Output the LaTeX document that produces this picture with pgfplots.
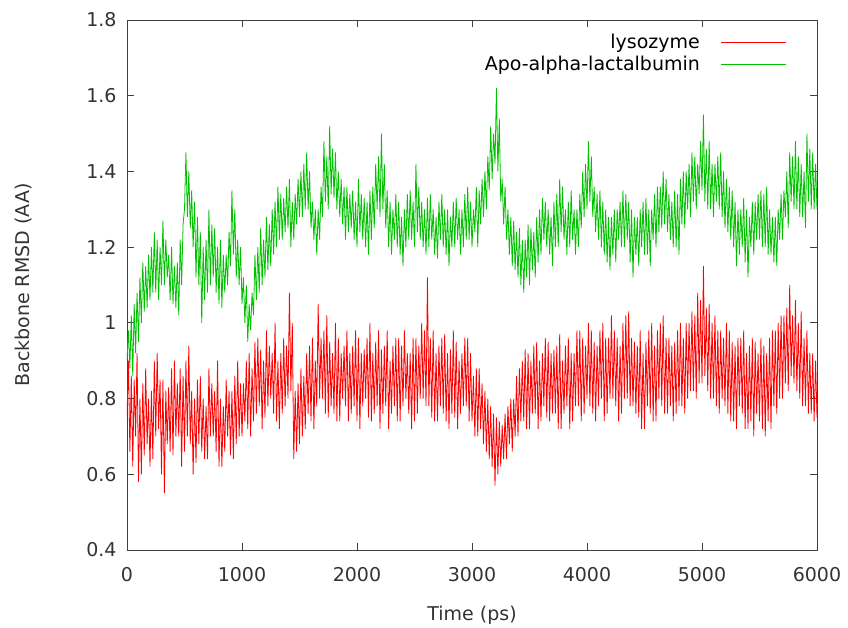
\documentclass[border=0pt]{standalone}
\usepackage{pgfplots}
\pgfplotsset{compat=1.18}
\usepackage{fontspec}
\setmainfont{DejaVu Sans}
\definecolor{gpred}{RGB}{255,0,0}
\definecolor{gpgreen}{RGB}{0,192,0}
\begin{document}
\fontsize{19bp}{23bp}\selectfont
\begin{tikzpicture}
\path[use as bounding box] (-127bp,-78bp) rectangle (721bp,550bp);
\begin{axis}[
  at={(0,0)}, anchor=south west,
  scale only axis, width=690bp, height=530bp,
  xmin=0, xmax=6000, ymin=0.4, ymax=1.8,
  xtick={0,1000,...,6000}, ytick={0.4,0.6,...,1.8},
  tick align=inside, tick pos=both,
  major tick length=7bp,
  scaled ticks=false,
  /pgf/number format/1000 sep={},
  /pgf/number format/assume math mode=true,
  ticklabel style={font=\fontsize{19bp}{23bp}\selectfont, black!80},
  label style={font=\fontsize{19bp}{23bp}\selectfont, black!80},
  xticklabel style={yshift=-11bp},
  yticklabel style={xshift=-4bp},
  xlabel={Time (ps)}, ylabel={Backbone RMSD (AA)},
  xlabel style={yshift=-11bp},
  ylabel style={yshift=41bp},
  axis line style={black!75, line width=0.9bp},
  every tick/.style={black!75, line width=0.9bp},
  legend style={draw=none, fill=none, inner sep=0pt,
    at={(0.9565,0.978)}, anchor=north east,
    font=\fontsize{19bp}{23bp}\selectfont, row sep=1bp},
  legend cell align=right,
  legend plot pos=right,
]
\addplot[gpred, line width=0.8bp,
  legend image code/.code={\path (0bp,0bp); \draw[gpred, line width=1bp] (19bp,0bp) -- (84bp,0bp);}] coordinates {
(0,0.75)(12.5,0.90)(25,0.66)(37.5,0.86)(50,0.62)(62.5,0.85)(75,0.70)(87.5,0.92)
(100,0.58)(112.5,0.80)(125,0.60)(137.5,0.84)(150,0.65)(162.5,0.88)(175,0.68)(187.5,0.80)
(200,0.62)(212.5,0.82)(225,0.64)(237.5,0.90)(250,0.70)(262.5,0.92)(275,0.72)(287.5,0.85)
(300,0.60)(312.5,0.85)(325,0.55)(337.5,0.82)(350,0.68)(362.5,0.83)(375,0.66)(387.5,0.88)
(400,0.65)(412.5,0.90)(425,0.70)(437.5,0.84)(450,0.70)(462.5,0.88)(475,0.62)(487.5,0.86)
(500,0.66)(512.5,0.90)(525,0.70)(537.5,0.94)(550,0.68)(562.5,0.82)(575,0.60)(587.5,0.80)
(600,0.63)(612.5,0.85)(625,0.68)(637.5,0.86)(650,0.66)(662.5,0.80)(675,0.64)(687.5,0.78)
(700,0.64)(712.5,0.88)(725,0.70)(737.5,0.84)(750,0.70)(762.5,0.82)(775,0.66)(787.5,0.90)
(800,0.62)(812.5,0.80)(825,0.62)(837.5,0.78)(850,0.66)(862.5,0.85)(875,0.70)(887.5,0.82)
(900,0.65)(912.5,0.82)(925,0.64)(937.5,0.86)(950,0.68)(962.5,0.90)(975,0.70)(987.5,0.84)
(1000,0.70)(1012.5,0.84)(1025,0.74)(1037.5,0.90)(1050,0.72)(1062.5,0.92)(1075,0.70)(1087.5,0.88)
(1100,0.74)(1112.5,0.95)(1125,0.76)(1137.5,0.96)(1150,0.78)(1162.5,0.93)(1175,0.72)(1187.5,0.90)
(1200,0.75)(1212.5,0.98)(1225,0.78)(1237.5,0.94)(1250,0.80)(1262.5,0.92)(1275,0.76)(1287.5,1.00)
(1300,0.74)(1312.5,0.90)(1325,0.72)(1337.5,0.92)(1350,0.76)(1362.5,0.96)(1375,0.78)(1387.5,0.94)
(1400,0.80)(1412.5,1.08)(1425,0.82)(1437.5,1.00)(1450,0.64)(1462.5,0.82)(1475,0.66)(1487.5,0.84)
(1500,0.68)(1512.5,0.88)(1525,0.70)(1537.5,0.86)(1550,0.72)(1562.5,0.92)(1575,0.76)(1587.5,0.94)
(1600,0.74)(1612.5,0.96)(1625,0.72)(1637.5,0.90)(1650,0.78)(1662.5,1.05)(1675,0.80)(1687.5,0.96)
(1700,0.80)(1712.5,0.98)(1725,0.76)(1737.5,1.02)(1750,0.75)(1762.5,0.95)(1775,0.78)(1787.5,0.92)
(1800,0.76)(1812.5,1.00)(1825,0.74)(1837.5,0.96)(1850,0.74)(1862.5,0.92)(1875,0.80)(1887.5,0.94)
(1900,0.78)(1912.5,0.98)(1925,0.74)(1937.5,0.92)(1950,0.76)(1962.5,0.94)(1975,0.78)(1987.5,0.98)
(2000,0.74)(2012.5,0.96)(2025,0.72)(2037.5,0.92)(2050,0.78)(2062.5,0.93)(2075,0.80)(2087.5,0.96)
(2100,0.75)(2112.5,1.00)(2125,0.74)(2137.5,0.92)(2150,0.76)(2162.5,0.95)(2175,0.78)(2187.5,0.98)
(2200,0.72)(2212.5,0.93)(2225,0.76)(2237.5,0.94)(2250,0.78)(2262.5,0.98)(2275,0.72)(2287.5,0.90)
(2300,0.76)(2312.5,0.94)(2325,0.78)(2337.5,0.96)(2350,0.74)(2362.5,0.96)(2375,0.74)(2387.5,0.94)
(2400,0.78)(2412.5,0.98)(2425,0.80)(2437.5,0.92)(2450,0.76)(2462.5,0.92)(2475,0.72)(2487.5,0.96)
(2500,0.74)(2512.5,0.96)(2525,0.76)(2537.5,0.94)(2550,0.80)(2562.5,1.00)(2575,0.80)(2587.5,0.98)
(2600,0.78)(2612.5,1.12)(2625,0.78)(2637.5,0.96)(2650,0.75)(2662.5,0.98)(2675,0.74)(2687.5,0.92)
(2700,0.74)(2712.5,0.94)(2725,0.78)(2737.5,0.96)(2750,0.76)(2762.5,0.97)(2775,0.74)(2787.5,0.92)
(2800,0.72)(2812.5,0.93)(2825,0.76)(2837.5,0.98)(2850,0.75)(2862.5,0.95)(2875,0.72)(2887.5,0.90)
(2900,0.76)(2912.5,0.92)(2925,0.78)(2937.5,0.96)(2950,0.78)(2962.5,0.96)(2975,0.74)(2987.5,0.92)
(3000,0.74)(3012.5,0.86)(3025,0.70)(3037.5,0.88)(3050,0.70)(3062.5,0.88)(3075,0.72)(3087.5,0.84)
(3100,0.68)(3112.5,0.82)(3125,0.66)(3137.5,0.80)(3150,0.64)(3162.5,0.78)(3175,0.62)(3187.5,0.76)
(3200,0.57)(3212.5,0.75)(3225,0.60)(3237.5,0.74)(3250,0.62)(3262.5,0.73)(3275,0.64)(3287.5,0.76)
(3300,0.64)(3312.5,0.78)(3325,0.68)(3337.5,0.80)(3350,0.66)(3362.5,0.80)(3375,0.70)(3387.5,0.86)
(3400,0.70)(3412.5,0.88)(3425,0.74)(3437.5,0.90)(3450,0.74)(3462.5,0.93)(3475,0.72)(3487.5,0.92)
(3500,0.72)(3512.5,0.90)(3525,0.76)(3537.5,0.94)(3550,0.76)(3562.5,0.95)(3575,0.72)(3587.5,0.90)
(3600,0.74)(3612.5,0.92)(3625,0.78)(3637.5,0.96)(3650,0.75)(3662.5,0.95)(3675,0.74)(3687.5,0.92)
(3700,0.76)(3712.5,0.93)(3725,0.76)(3737.5,0.94)(3750,0.72)(3762.5,0.97)(3775,0.72)(3787.5,0.90)
(3800,0.76)(3812.5,0.94)(3825,0.78)(3837.5,0.96)(3850,0.72)(3862.5,0.92)(3875,0.74)(3887.5,0.92)
(3900,0.78)(3912.5,0.98)(3925,0.78)(3937.5,0.98)(3950,0.74)(3962.5,0.96)(3975,0.76)(3987.5,0.94)
(4000,0.80)(4012.5,1.00)(4025,0.78)(4037.5,0.98)(4050,0.76)(4062.5,0.95)(4075,0.74)(4087.5,0.94)
(4100,0.78)(4112.5,0.98)(4125,0.80)(4137.5,1.00)(4150,0.74)(4162.5,0.96)(4175,0.76)(4187.5,0.96)
(4200,0.80)(4212.5,1.02)(4225,0.80)(4237.5,0.98)(4250,0.78)(4262.5,0.96)(4275,0.74)(4287.5,0.94)
(4300,0.76)(4312.5,1.00)(4325,0.80)(4337.5,1.02)(4350,0.80)(4362.5,1.03)(4375,0.78)(4387.5,0.96)
(4400,0.78)(4412.5,0.95)(4425,0.76)(4437.5,0.94)(4450,0.75)(4462.5,0.98)(4475,0.72)(4487.5,0.92)
(4500,0.72)(4512.5,0.95)(4525,0.78)(4537.5,0.98)(4550,0.76)(4562.5,1.00)(4575,0.74)(4587.5,0.94)
(4600,0.74)(4612.5,0.98)(4625,0.80)(4637.5,1.00)(4650,0.78)(4662.5,1.02)(4675,0.76)(4687.5,0.96)
(4700,0.76)(4712.5,0.96)(4725,0.78)(4737.5,0.94)(4750,0.74)(4762.5,0.95)(4775,0.76)(4787.5,0.98)
(4800,0.78)(4812.5,1.00)(4825,0.78)(4837.5,0.96)(4850,0.76)(4862.5,1.00)(4875,0.80)(4887.5,1.00)
(4900,0.82)(4912.5,1.03)(4925,0.82)(4937.5,1.02)(4950,0.80)(4962.5,1.08)(4975,0.84)(4987.5,1.06)
(5000,0.84)(5012.5,1.15)(5025,0.86)(5037.5,1.04)(5050,0.82)(5062.5,1.05)(5075,0.80)(5087.5,1.00)
(5100,0.80)(5112.5,1.02)(5125,0.78)(5137.5,0.98)(5150,0.76)(5162.5,0.98)(5175,0.80)(5187.5,0.96)
(5200,0.78)(5212.5,1.00)(5225,0.76)(5237.5,0.98)(5250,0.74)(5262.5,0.95)(5275,0.74)(5287.5,0.94)
(5300,0.72)(5312.5,0.96)(5325,0.78)(5337.5,0.96)(5350,0.76)(5362.5,0.98)(5375,0.72)(5387.5,0.92)
(5400,0.72)(5412.5,0.94)(5425,0.74)(5437.5,0.96)(5450,0.70)(5462.5,0.95)(5475,0.76)(5487.5,0.92)
(5500,0.74)(5512.5,0.96)(5525,0.72)(5537.5,0.94)(5550,0.70)(5562.5,0.92)(5575,0.74)(5587.5,0.96)
(5600,0.72)(5612.5,0.98)(5625,0.78)(5637.5,0.98)(5650,0.76)(5662.5,1.00)(5675,0.80)(5687.5,1.02)
(5700,0.80)(5712.5,1.02)(5725,0.84)(5737.5,1.04)(5750,0.82)(5762.5,1.10)(5775,0.86)(5787.5,1.02)
(5800,0.84)(5812.5,1.06)(5825,0.82)(5837.5,1.00)(5850,0.80)(5862.5,1.03)(5875,0.78)(5887.5,0.96)
(5900,0.78)(5912.5,0.98)(5925,0.76)(5937.5,0.92)(5950,0.76)(5962.5,0.92)(5975,0.74)(5987.5,0.90)
(6000,0.75)
};
\addlegendentry{lysozyme}
\addplot[gpgreen, line width=0.8bp,
  legend image code/.code={\path (0bp,0bp); \draw[gpgreen, line width=1bp] (19bp,0bp) -- (84bp,0bp);}] coordinates {
(0,0.90)(12.5,0.98)(25,0.88)(37.5,1.02)(50,0.86)(62.5,1.05)(75,0.92)(87.5,1.08)
(100,0.95)(112.5,1.12)(125,1.00)(137.5,1.16)(150,1.03)(162.5,1.15)(175,1.04)(187.5,1.18)
(200,1.06)(212.5,1.20)(225,1.08)(237.5,1.24)(250,1.08)(262.5,1.22)(275,1.06)(287.5,1.20)
(300,1.10)(312.5,1.27)(325,1.10)(337.5,1.22)(350,1.12)(362.5,1.18)(375,1.06)(387.5,1.20)
(400,1.05)(412.5,1.15)(425,1.04)(437.5,1.16)(450,1.02)(462.5,1.22)(475,1.10)(487.5,1.26)
(500,1.30)(512.5,1.45)(525,1.28)(537.5,1.40)(550,1.25)(562.5,1.35)(575,1.20)(587.5,1.32)
(600,1.12)(612.5,1.28)(625,1.10)(637.5,1.24)(650,1.00)(662.5,1.20)(675,1.06)(687.5,1.22)
(700,1.08)(712.5,1.30)(725,1.10)(737.5,1.26)(750,1.12)(762.5,1.25)(775,1.08)(787.5,1.20)
(800,1.05)(812.5,1.22)(825,1.04)(837.5,1.18)(850,1.08)(862.5,1.18)(875,1.10)(887.5,1.24)
(900,1.15)(912.5,1.35)(925,1.18)(937.5,1.30)(950,1.12)(962.5,1.22)(975,1.10)(987.5,1.20)
(1000,1.05)(1012.5,1.12)(1025,1.00)(1037.5,1.10)(1050,0.95)(1062.5,1.05)(1075,0.98)(1087.5,1.08)
(1100,1.02)(1112.5,1.18)(1125,1.06)(1137.5,1.20)(1150,1.08)(1162.5,1.25)(1175,1.10)(1187.5,1.22)
(1200,1.12)(1212.5,1.28)(1225,1.14)(1237.5,1.26)(1250,1.15)(1262.5,1.30)(1275,1.18)(1287.5,1.32)
(1300,1.20)(1312.5,1.36)(1325,1.22)(1337.5,1.34)(1350,1.22)(1362.5,1.33)(1375,1.24)(1387.5,1.36)
(1400,1.25)(1412.5,1.38)(1425,1.20)(1437.5,1.32)(1450,1.22)(1462.5,1.34)(1475,1.26)(1487.5,1.38)
(1500,1.28)(1512.5,1.40)(1525,1.28)(1537.5,1.42)(1550,1.30)(1562.5,1.45)(1575,1.30)(1587.5,1.40)
(1600,1.25)(1612.5,1.32)(1625,1.22)(1637.5,1.30)(1650,1.18)(1662.5,1.30)(1675,1.22)(1687.5,1.36)
(1700,1.28)(1712.5,1.48)(1725,1.32)(1737.5,1.44)(1750,1.30)(1762.5,1.52)(1775,1.34)(1787.5,1.46)
(1800,1.33)(1812.5,1.45)(1825,1.30)(1837.5,1.40)(1850,1.28)(1862.5,1.38)(1875,1.26)(1887.5,1.36)
(1900,1.22)(1912.5,1.36)(1925,1.24)(1937.5,1.34)(1950,1.25)(1962.5,1.35)(1975,1.22)(1987.5,1.32)
(2000,1.20)(2012.5,1.38)(2025,1.24)(2037.5,1.34)(2050,1.22)(2062.5,1.33)(2075,1.20)(2087.5,1.32)
(2100,1.18)(2112.5,1.35)(2125,1.22)(2137.5,1.36)(2150,1.25)(2162.5,1.42)(2175,1.30)(2187.5,1.44)
(2200,1.28)(2212.5,1.50)(2225,1.30)(2237.5,1.42)(2250,1.25)(2262.5,1.35)(2275,1.20)(2287.5,1.32)
(2300,1.18)(2312.5,1.30)(2325,1.22)(2337.5,1.34)(2350,1.20)(2362.5,1.32)(2375,1.18)(2387.5,1.28)
(2400,1.15)(2412.5,1.30)(2425,1.20)(2437.5,1.34)(2450,1.22)(2462.5,1.35)(2475,1.22)(2487.5,1.32)
(2500,1.20)(2512.5,1.42)(2525,1.24)(2537.5,1.36)(2550,1.22)(2562.5,1.32)(2575,1.20)(2587.5,1.30)
(2600,1.18)(2612.5,1.33)(2625,1.20)(2637.5,1.34)(2650,1.22)(2662.5,1.30)(2675,1.18)(2687.5,1.28)
(2700,1.17)(2712.5,1.32)(2725,1.22)(2737.5,1.34)(2750,1.20)(2762.5,1.30)(2775,1.18)(2787.5,1.30)
(2800,1.15)(2812.5,1.28)(2825,1.20)(2837.5,1.32)(2850,1.20)(2862.5,1.33)(2875,1.22)(2887.5,1.30)
(2900,1.18)(2912.5,1.30)(2925,1.20)(2937.5,1.34)(2950,1.22)(2962.5,1.36)(2975,1.22)(2987.5,1.32)
(3000,1.20)(3012.5,1.30)(3025,1.24)(3037.5,1.36)(3050,1.20)(3062.5,1.35)(3075,1.26)(3087.5,1.38)
(3100,1.28)(3112.5,1.40)(3125,1.30)(3137.5,1.44)(3150,1.35)(3162.5,1.52)(3175,1.38)(3187.5,1.50)
(3200,1.42)(3212.5,1.62)(3225,1.40)(3237.5,1.54)(3250,1.32)(3262.5,1.38)(3275,1.26)(3287.5,1.36)
(3300,1.22)(3312.5,1.30)(3325,1.18)(3337.5,1.28)(3350,1.15)(3362.5,1.27)(3375,1.14)(3387.5,1.24)
(3400,1.12)(3412.5,1.25)(3425,1.10)(3437.5,1.22)(3450,1.08)(3462.5,1.22)(3475,1.12)(3487.5,1.26)
(3500,1.10)(3512.5,1.25)(3525,1.14)(3537.5,1.24)(3550,1.12)(3562.5,1.28)(3575,1.16)(3587.5,1.30)
(3600,1.18)(3612.5,1.33)(3625,1.22)(3637.5,1.32)(3650,1.20)(3662.5,1.30)(3675,1.18)(3687.5,1.28)
(3700,1.15)(3712.5,1.32)(3725,1.20)(3737.5,1.34)(3750,1.20)(3762.5,1.38)(3775,1.24)(3787.5,1.36)
(3800,1.22)(3812.5,1.30)(3825,1.18)(3837.5,1.32)(3850,1.20)(3862.5,1.35)(3875,1.22)(3887.5,1.30)
(3900,1.18)(3912.5,1.30)(3925,1.20)(3937.5,1.34)(3950,1.25)(3962.5,1.40)(3975,1.28)(3987.5,1.42)
(4000,1.30)(4012.5,1.48)(4025,1.32)(4037.5,1.44)(4050,1.28)(4062.5,1.36)(4075,1.24)(4087.5,1.34)
(4100,1.22)(4112.5,1.35)(4125,1.20)(4137.5,1.32)(4150,1.18)(4162.5,1.30)(4175,1.16)(4187.5,1.28)
(4200,1.14)(4212.5,1.28)(4225,1.18)(4237.5,1.30)(4250,1.16)(4262.5,1.30)(4275,1.22)(4287.5,1.32)
(4300,1.20)(4312.5,1.35)(4325,1.20)(4337.5,1.34)(4350,1.22)(4362.5,1.32)(4375,1.16)(4387.5,1.30)
(4400,1.12)(4412.5,1.28)(4425,1.18)(4437.5,1.28)(4450,1.15)(4462.5,1.30)(4475,1.20)(4487.5,1.32)
(4500,1.18)(4512.5,1.33)(4525,1.18)(4537.5,1.30)(4550,1.15)(4562.5,1.30)(4575,1.22)(4587.5,1.34)
(4600,1.20)(4612.5,1.36)(4625,1.24)(4637.5,1.36)(4650,1.25)(4662.5,1.40)(4675,1.26)(4687.5,1.38)
(4700,1.24)(4712.5,1.34)(4725,1.22)(4737.5,1.32)(4750,1.20)(4762.5,1.35)(4775,1.20)(4787.5,1.34)
(4800,1.18)(4812.5,1.38)(4825,1.26)(4837.5,1.40)(4850,1.25)(4862.5,1.40)(4875,1.30)(4887.5,1.42)
(4900,1.28)(4912.5,1.45)(4925,1.32)(4937.5,1.44)(4950,1.30)(4962.5,1.42)(4975,1.34)(4987.5,1.48)
(5000,1.35)(5012.5,1.55)(5025,1.32)(5037.5,1.46)(5050,1.30)(5062.5,1.48)(5075,1.30)(5087.5,1.42)
(5100,1.28)(5112.5,1.42)(5125,1.32)(5137.5,1.44)(5150,1.30)(5162.5,1.45)(5175,1.28)(5187.5,1.40)
(5200,1.25)(5212.5,1.38)(5225,1.24)(5237.5,1.36)(5250,1.22)(5262.5,1.35)(5275,1.20)(5287.5,1.32)
(5300,1.15)(5312.5,1.30)(5325,1.18)(5337.5,1.30)(5350,1.20)(5362.5,1.33)(5375,1.16)(5387.5,1.30)
(5400,1.12)(5412.5,1.28)(5425,1.20)(5437.5,1.32)(5450,1.18)(5462.5,1.32)(5475,1.22)(5487.5,1.34)
(5500,1.22)(5512.5,1.35)(5525,1.20)(5537.5,1.34)(5550,1.20)(5562.5,1.36)(5575,1.18)(5587.5,1.30)
(5600,1.18)(5612.5,1.28)(5625,1.16)(5637.5,1.28)(5650,1.15)(5662.5,1.30)(5675,1.22)(5687.5,1.34)
(5700,1.22)(5712.5,1.35)(5725,1.28)(5737.5,1.40)(5750,1.25)(5762.5,1.45)(5775,1.32)(5787.5,1.44)
(5800,1.30)(5812.5,1.48)(5825,1.30)(5837.5,1.44)(5850,1.28)(5862.5,1.42)(5875,1.28)(5887.5,1.40)
(5900,1.25)(5912.5,1.50)(5925,1.32)(5937.5,1.46)(5950,1.30)(5962.5,1.45)(5975,1.30)(5987.5,1.42)
(6000,1.30)
};
\addlegendentry{Apo-alpha-lactalbumin}
\end{axis}
\end{tikzpicture}
\end{document}
